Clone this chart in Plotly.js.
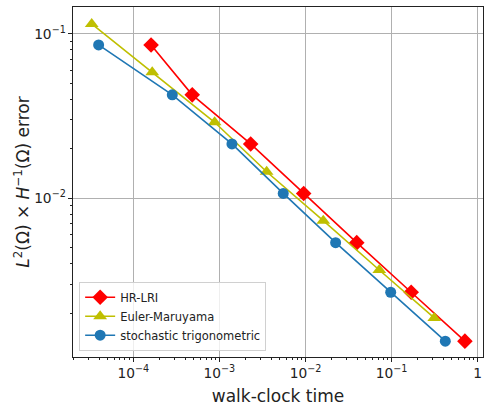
<!DOCTYPE html>
<html>
<head>
<meta charset="utf-8">
<script src="https://cdn.plot.ly/plotly-3.0.1.min.js"></script>
<style>html,body{margin:0;padding:0;background:#fff;}#chart{width:491px;height:407px;}</style>
</head>
<body>
<div id="chart"></div>
<script>
const seriesNames = ["HR-LRI", "Euler-Maruyama", "stochastic trigonometric"];
const hrTime = [1.61e-4, 4.84e-4, 2.31e-3, 9.53e-3, 0.0394, 0.169, 0.711];
const hrErr = [0.0857, 0.0426, 0.0214, 0.0107, 0.00537, 0.00268, 0.00135];
const emTime = [3.29e-5, 1.66e-4, 8.81e-4, 3.54e-3, 0.0161, 0.0720, 0.313];
const emErr = [0.115, 0.0585, 0.0290, 0.0145, 0.00731, 0.00366, 0.00187];
const stTime = [3.96e-5, 2.84e-4, 1.40e-3, 5.52e-3, 0.0224, 0.0977, 0.421];
const stErr = [0.0857, 0.0426, 0.0214, 0.0107, 0.00537, 0.00268, 0.00135];

const traces = [
  {x: hrTime, y: hrErr, name: seriesNames[0], mode: "lines+markers",
   line: {color: "#ff0000", width: 1.6}, marker: {symbol: "diamond", size: 12, color: "#ff0000"}},
  {x: emTime, y: emErr, name: seriesNames[1], mode: "lines+markers",
   line: {color: "#bfbf00", width: 1.6}, marker: {symbol: "triangle-up", size: 12, color: "#bfbf00"}},
  {x: stTime, y: stErr, name: seriesNames[2], mode: "lines+markers",
   line: {color: "#1f77b4", width: 1.6}, marker: {symbol: "circle", size: 11, color: "#1f77b4"}}
];

const axisCommon = {
  type: "log", dtick: 1, exponentformat: "power", showexponent: "all",
  showgrid: true, gridcolor: "#b0b0b0", gridwidth: 1,
  showline: true, linecolor: "#222", linewidth: 1, mirror: true,
  ticks: "outside", ticklen: 4, tickcolor: "#222", zeroline: false,
  tickfont: {family: "DejaVu Sans", size: 11, color: "#222"},
  minor: {ticks: "outside", ticklen: 2, tickcolor: "#222", showgrid: false}
};

const layout = {
  width: 491, height: 407,
  margin: {l: 73, r: 8, t: 7, b: 50},
  paper_bgcolor: "#fff", plot_bgcolor: "#fff",
  showlegend: true,
  legend: {x: 0.015, y: 0.018, xanchor: "left", yanchor: "bottom",
    bgcolor: "rgba(255,255,255,0.8)", bordercolor: "#d0d0d0", borderwidth: 1,
    font: {family: "DejaVu Sans", size: 11.5, color: "#222"}, tracegroupgap: 0},
  xaxis: Object.assign({}, axisCommon, {
    range: [-4.70, 0.062],
    title: {text: "walk-clock time", font: {family: "DejaVu Sans", size: 17, color: "#222"}, standoff: 10}
  }),
  yaxis: Object.assign({}, axisCommon, {
    range: [-2.966, -0.836],
    title: {text: "<i>L</i><sup>2</sup>(Ω) × <i>H</i><sup>−1</sup>(Ω) error", font: {family: "DejaVu Sans", size: 17, color: "#222"}, standoff: 0}
  })
};

Plotly.newPlot("chart", traces, layout, {displayModeBar: false, staticPlot: true});
</script>
</body>
</html>
